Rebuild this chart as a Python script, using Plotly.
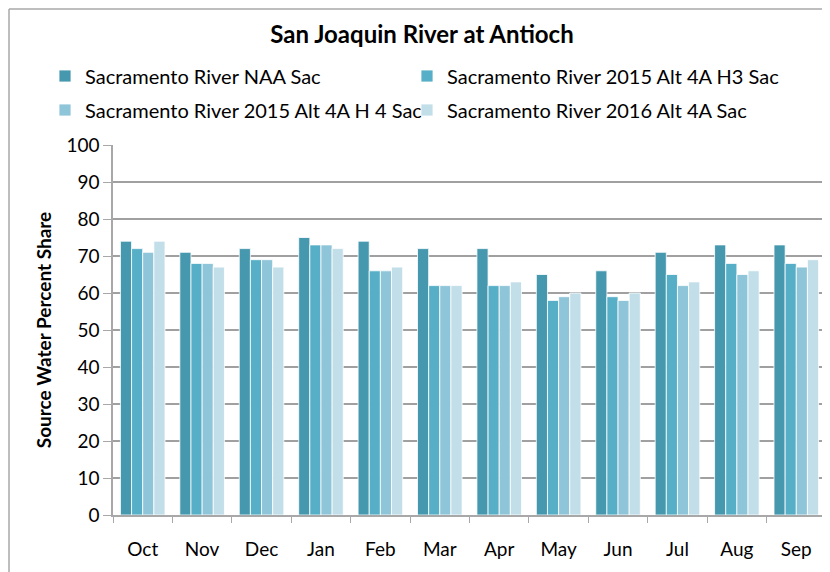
import plotly.graph_objects as go

months = ['Oct', 'Nov', 'Dec', 'Jan', 'Feb', 'Mar', 'Apr', 'May', 'Jun', 'Jul', 'Aug', 'Sep']
naa = [74, 71, 72, 75, 74, 72, 72, 65, 66, 71, 73, 73]
alt_h3 = [72, 68, 69, 73, 66, 62, 62, 58, 59, 65, 68, 68]
alt_h4 = [71, 68, 69, 73, 66, 62, 62, 59, 58, 62, 65, 67]
alt_2016 = [74, 67, 67, 72, 67, 62, 63, 60, 60, 63, 66, 69]

series = [
    ('Sacramento River NAA Sac', naa, '#4598AE'),
    ('Sacramento River 2015 Alt 4A H3 Sac', alt_h3, '#56AFC6'),
    ('Sacramento River 2015 Alt 4A H 4 Sac', alt_h4, '#8FC5D8'),
    ('Sacramento River 2016 Alt 4A Sac', alt_2016, '#C2DEE8'),
]

FONT = 'Lato, Carlito, sans-serif'
# the page body has an 8px margin, so the figure is drawn 8px in from the corner
W, H, OFF = 822, 564, 8

def cx(px):
    return (px - OFF) / W

def cy(py):
    return 1 - (py - OFF) / H

# legend slots (page pixels): one legend per entry, laid out as 2x2
slots = [(45, 76), (407, 76), (45, 110), (407, 110)]
leg_names = ['legend', 'legend2', 'legend3', 'legend4']

fig = go.Figure()
for (name, vals, col), leg in zip(series, leg_names):
    fig.add_trace(go.Bar(
        x = months, y = vals, name = name, legend = leg,
        marker = dict(color = col, line = dict(color = 'rgba(255,255,255,0.8)', width = 1))
    ))

legends = {}
for leg, (lx, ly) in zip(leg_names, slots):
    legends[leg] = dict(orientation = 'h', xref = 'container', yref = 'container',
                        x = cx(lx), y = cy(ly), xanchor = 'left', yanchor = 'middle',
                        font = dict(size = 20, family = FONT), itemwidth = 30,
                        bgcolor = 'rgba(0,0,0,0)')

fig.update_layout(
    width = W, height = H,
    paper_bgcolor = 'white', plot_bgcolor = 'white',
    font = dict(family = FONT, size = 19, color = 'black'),
    margin = dict(l = 113 - OFF, r = 4, t = 145 - OFF, b = 57, autoexpand = False),
    bargap = 0.25, bargroupgap = 0,
    title = dict(text = '<b>San Joaquin River at Antioch</b>', xref = 'container', x = cx(422), xanchor = 'center',
                 yref = 'container', y = cy(35), yanchor = 'middle', font = dict(size = 24, family = FONT)),
    showlegend = True,
    **legends
)

fig.update_yaxes(
    range = [0, 100], dtick = 10, showgrid = True, gridcolor = '#A0A0A0', gridwidth = 1.5,
    showline = True, linecolor = '#A8A8A8', linewidth = 1.5,
    ticks = 'outside', ticklen = 8, tickcolor = '#A8A8A8',
    tickfont = dict(size = 19),
    title = dict(text = '<b>Source Water Percent Share</b>', font = dict(size = 19, family = FONT), standoff = 10),
    zeroline = False,
)
fig.update_xaxes(
    showline = True, linecolor = '#A8A8A8', linewidth = 1.5,
    ticks = 'outside', ticklen = 6, tickcolor = '#A8A8A8', tickson = 'boundaries',
    tickfont = dict(size = 19),
    ticklabelstandoff = 16,
)

# outer chart border (left and top edges)
pw = 826 - 113
ph = 515 - 145
bx = (9 - 113) / pw
by = (515 - 9) / ph
fig.add_shape(type = 'line', xref = 'paper', yref = 'paper',
              x0 = bx, x1 = bx, y0 = by, y1 = -0.3,
              line = dict(color = '#A8A8A8', width = 1.5))
fig.add_shape(type = 'line', xref = 'paper', yref = 'paper',
              x0 = bx, x1 = 1.02, y0 = by, y1 = by,
              line = dict(color = '#A8A8A8', width = 1.5))

fig.write_html('out.html')
